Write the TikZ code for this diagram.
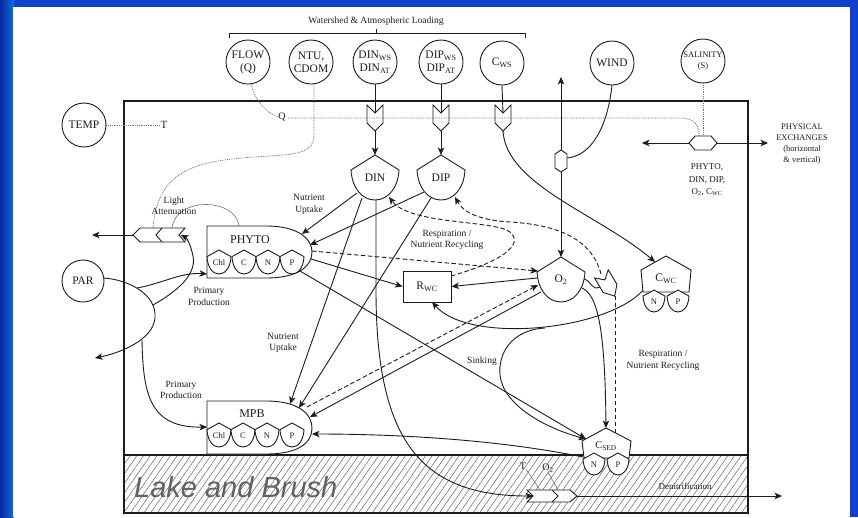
\documentclass[tikz,border=0pt]{standalone}
\usepackage{fontspec}
\setmainfont{Liberation Serif}
\newfontfamily\slidesans{Liberation Sans}
\usetikzlibrary{arrows.meta,patterns.meta}
\definecolor{slideblue}{RGB}{18,66,205}
\definecolor{slidedeep}{RGB}{6,40,165}
\definecolor{ink}{RGB}{28,28,28}
\definecolor{faint}{RGB}{115,115,115}
\newcommand\fs[1]{\fontsize{#1}{#1}\selectfont}

% small five-sided element (Chl, C, N, P): name, x, y, half size, label
\newcommand\minishield[5]{%
  \draw[shapeline] (#2,#3-#4) -- (#2+#4,#3-0.45*#4)
    .. controls (#2+0.95*#4,#3+0.5*#4) and (#2+0.5*#4,#3+#4) .. (#2,#3+#4)
    .. controls (#2-0.5*#4,#3+#4) and (#2-0.95*#4,#3+0.5*#4) .. (#2-#4,#3-0.45*#4) -- cycle;
  \node[minitext] (#1) at (#2,#3+1) {#5};}

% state variable with pointed top and rounded base: name, x, y, label
\newcommand\bigshield[4]{%
  \draw[shapeline] (#2,#3-23) -- (#2+24,#3-8)
    .. controls (#2+23,#3+10) and (#2+13,#3+22) .. (#2,#3+22)
    .. controls (#2-13,#3+22) and (#2-23,#3+10) .. (#2-24,#3-8) -- cycle;
  \node[boxtext] (#1) at (#2,#3) {#4};}

% loading valve on the top edge of the water column: name, x
\newcommand\inletvalve[2]{%
  \draw[conn] (#2-8,105) -- (#2,113) -- (#2+8,105) -- (#2+8,123) -- (#2,131) -- (#2-8,123) -- cycle;
  \coordinate (#1-in) at (#2,113);
  \coordinate (#1-out) at (#2,131);}

\begin{document}
\begin{tikzpicture}[x=1pt,y=-1pt,
  shapeline/.style={draw=ink,line width=0.9pt,fill=white},
  conn/.style={draw=ink,line width=0.9pt},
  flow/.style={conn,-{Stealth[length=7.5pt,width=6.5pt,inset=2pt]}},
  dflow/.style={flow,dash pattern=on 4.5pt off 2.5pt},
  dconn/.style={conn,dash pattern=on 4.5pt off 2.5pt},
  dotconn/.style={draw=faint,line width=0.75pt,dash pattern=on 0.9pt off 0.9pt},
  thinconn/.style={draw=faint,line width=0.6pt},
  extcirc/.style={circle,draw=ink,line width=0.9pt,minimum size=44pt,inner sep=0pt,
    align=center,font=\fontsize{11.5}{13}\selectfont,text=ink,fill=white},
  boxtext/.style={inner sep=0pt,font=\fs{11.5},text=ink},
  minitext/.style={inner sep=0pt,font=\fs{8.5},text=ink},
  lbl/.style={inner sep=0pt,align=center,font=\fontsize{9.5}{11.5}\selectfont,text=ink},
]
\useasboundingbox (0,0) rectangle (858,517);

% slide background
\fill[slideblue] (0,0) rectangle (858,517);
\shade[left color=slidedeep,right color=slideblue!75!cyan] (0,0) rectangle (14,517);
\fill[white] (13,7) rectangle (850,517);

% water column and sediment
\fill[pattern={Lines[angle=55,distance=5.5pt,line width=0.45pt]},pattern color=black!65]
  (124,455) rectangle (748,513);
\draw[ink,line width=1.1pt] (124,101) rectangle (748,513) (124,455) -- (748,455);
\node[font=\slidesans\itshape\fs{29},text=black!62,anchor=base west,inner sep=0pt] (lake)
  at (134,497) {Lake and Brush};

% external forcings
\node[lbl,font=\fs{9.5}] (load) at (376,21) {Watershed \& Atmospheric Loading};
\draw[conn,line width=0.7pt] (229,38) -- (229,33) -- (525,33) -- (525,38) (376,33) -- (376,29);

\node[extcirc] (flow) at (248,62) {FLOW\\(Q)};
\node[extcirc] (ntu) at (311,62) {NTU,\\CDOM};
\node[extcirc] (dinws) at (375,62) {DIN\textsubscript{WS}\\DIN\textsubscript{AT}};
\node[extcirc] (dipws) at (441,62) {DIP\textsubscript{WS}\\DIP\textsubscript{AT}};
\node[extcirc] (cws) at (502,63) {C\textsubscript{WS}};
\node[extcirc] (wind) at (612,63) {WIND};
\node[extcirc,font=\fontsize{8.5}{11}\selectfont] (sal) at (703,61) {SALINITY\\(S)};
\node[extcirc] (temp) at (84,125) {TEMP};
\node[extcirc,minimum size=42pt] (par) at (83,281) {PAR};

% anchor points
\coordinate (din-top) at (375,155);
\coordinate (dip-top) at (441,155);
\coordinate (o2-top) at (561,257);
\coordinate (dinBL) at (357,193);
\coordinate (dinB) at (362,198);
\coordinate (dinBot) at (376,200);
\coordinate (dinDown) at (376,290);
\coordinate (dinBR) at (389,197);
\coordinate (dipBL) at (424,192);
\coordinate (dipB) at (431,198);
\coordinate (dipBR) at (455,197);
\coordinate (phytoTR1) at (302,234);
\coordinate (phytoTR2) at (310,245);
\coordinate (phytoR) at (312,251);
\coordinate (phytoR2) at (311,259);
\coordinate (phytoBR) at (300,271);
\coordinate (phytoL) at (207,274);
\coordinate (phytoTop) at (239,226);
\coordinate (mpbT1) at (290,404);
\coordinate (mpbT2) at (299,408);
\coordinate (mpbR1) at (307,407);
\coordinate (mpbR2) at (310,417);
\coordinate (mpbR3) at (312,434);
\coordinate (mpbL) at (207,427);
\coordinate (rwcTR) at (451,276);
\coordinate (rwcB) at (432,302);
\coordinate (o2L1) at (538,271);
\coordinate (o2L2) at (537,278);
\coordinate (o2L3) at (538,285);
\coordinate (o2L4) at (541,292);
\coordinate (o2R) at (584,279);
\coordinate (o2BR) at (582,288);
\coordinate (ovIn) at (600,287);
\coordinate (ovTop) at (601,274);
\coordinate (ovBot) at (615,296);
\coordinate (cwcIn) at (655,262);
\coordinate (cwcL) at (644,289);
\coordinate (sinkTop) at (545,328);
\coordinate (csedTL) at (586,439);
\coordinate (csedTop) at (606,428);
\coordinate (csedTR) at (615,433);
\coordinate (csedL) at (583,457);
\coordinate (dvIn) at (533,496);
\coordinate (dvOut) at (577,496);
\coordinate (dvEnd) at (782,496);
\coordinate (dvT) at (540,490);
\coordinate (dvO) at (558,490);
\coordinate (hexL) at (689,143);
\coordinate (hexR) at (717,143);
\coordinate (hex-top) at (703,136);
\coordinate (xl) at (642,143);
\coordinate (xr) at (768,143);
\coordinate (wv-top) at (561,150);
\coordinate (wv-bot) at (561,172);
\coordinate (wv-right) at (567,158);
\coordinate (o2atm) at (561,77);
\coordinate (lvL) at (133,235);
\coordinate (lvOut) at (92,235);
\coordinate (lvTip) at (181,235);
\coordinate (lv-top) at (153,228);
\coordinate (lvTop2) at (172,228);
\coordinate (parR) at (104,278);
\coordinate (parOut) at (95,358);
\coordinate (parA) at (137,288);
\coordinate (parB) at (153,305);
\coordinate (parC) at (142,340);
\coordinate (flowfoot) at (251,84);
\coordinate (ntufoot) at (314,84);
\coordinate (qstart) at (288,118);
\coordinate (qbend) at (680,118);
\coordinate (qend) at (699,136.5);

% loading valves
\inletvalve{vdin}{375}
\inletvalve{vdip}{441}
\inletvalve{vcws}{503}

% physical drivers (dotted)
\node[boxtext,font=\fs{10}] (qlab) at (282,117) {Q};
\node[boxtext,font=\fs{11}] (tlab) at (164,125) {T};
\draw[dotconn] (flowfoot) .. controls (255,100) and (265,112) .. (qlab.west);
\draw[dotconn] (qstart) -- (qbend) .. controls (696,118) and (699,126) .. (qend);
\draw[dotconn] (ntufoot) -- (314,135) .. controls (314,152) and (300,154) .. (270,156)
  .. controls (200,160) and (158,166) .. (lv-top);
\draw[dotconn] (temp.east) -- (tlab.west);
\draw[dotconn] (sal.south) -- (hex-top);

% loading inputs
\draw[conn] (dinws.south) -- (vdin-in);
\draw[conn] (dipws.south) -- (vdip-in);
\draw[conn] (cws.south) -- (vcws-in);
\draw[flow] (vdin-out) -- (din-top);
\draw[flow] (vdip-out) -- (dip-top);
\draw[flow] (vcws-out) .. controls (506,185) and (600,215) .. (cwcIn);

% physical exchanges
\draw[flow] (hexL) -- (xl);
\draw[flow] (hexR) -- (xr);

% reaeration
\draw[flow] (wv-top) -- (o2atm);
\draw[flow] (wv-bot) -- (o2-top);
\draw[conn] (wind.south) .. controls (607,130) and (590,156) .. (wv-right);

% light
\draw[flow] (lvL) -- (lvOut);
\draw[thinconn] (phytoTop) .. controls (236,198) and (176,196) .. (lvTop2);
\draw[flow] (parR) .. controls (130,280) and (157,295) .. (155,318)
  .. controls (153,340) and (120,353) .. (parOut);
\draw[flow] (parA) .. controls (160,284) and (182,272) .. (phytoL);
\draw[flow] (parB) .. controls (176,292) and (197,275) .. (193,256)
  .. controls (191,246) and (187,238) .. (lvTip);
\draw[flow] (parC) .. controls (143,395) and (150,428) .. (mpbL);

% nutrient uptake
\draw[flow] (dinBL) -- (phytoTR1);
\draw[flow] (dipBL) -- (phytoTR2);
\draw[flow] (dinB) -- (mpbT1);
\draw[flow] (dipB) -- (mpbT2);

% respiration box
\node[draw=ink,line width=0.9pt,fill=white,minimum width=48pt,minimum height=31pt,
  inner sep=0pt,font=\fs{11.5},text=ink] (rwc) at (427,286.5) {R\textsubscript{WC}};

% production, respiration and sinking
\draw[dflow] (phytoR) -- (o2L1);
\draw[flow] (phytoR2) -- (rwc.west);
\draw[flow] (phytoBR) -- (csedTL);
\draw[flow] (o2L2) -- (rwc.east);
\draw[dflow] (mpbR1) -- (o2L3);
\draw[flow] (o2L4) -- (mpbR2);
\draw[flow] (csedL) .. controls (500,440) and (400,434) .. (mpbR3);
\draw[flow] (cwcL) .. controls (610,330) and (470,345) .. (rwcB);
\draw[flow] (sinkTop) .. controls (510,330) and (498,355) .. (500,375)
  .. controls (503,405) and (545,428) .. (csedTL);

% nutrient recycling
\draw[dflow] (rwcTR) .. controls (500,262) and (525,245) .. (510,232)
  .. controls (495,220) and (410,225) .. (dinBR);
\draw[dflow] (ovTop) .. controls (592,240) and (560,225) .. (510,222)
  .. controls (475,220) and (462,210) .. (dipBR);
\draw[dconn] (csedTR) -- (ovBot);
\draw[conn] (o2R) .. controls (592,281) and (591,291) .. (ovIn);
\draw[flow] (o2BR) .. controls (598,295) and (605,330) .. (csedTop);

% denitrification
\draw[flow] (dinBot) -- (dinDown) .. controls (376,440) and (420,496) .. (dvIn);
\draw[flow] (dvOut) -- (dvEnd);

% valves
\draw[shapeline] (689,143) -- (695,136) -- (711,136) -- (717,143) -- (711,150) -- (695,150) -- cycle;
\draw[shapeline] (561,150) -- (567,154) -- (567,168) -- (561,172) -- (555,168) -- (555,154) -- cycle;
\draw[shapeline] (133,235) -- (140,228) -- (185,228) -- (179,235) -- (185,242) -- (140,242) -- cycle;
\draw[conn] (162,228) -- (156,235) -- (162,242);
\draw[shapeline] (594.5,278) -- (604.9,279.9) -- (608.2,269.8) -- (616.9,284.3) -- (614.7,296.1) -- (603.2,292.5) -- cycle;
\draw[shapeline] (527,490) -- (570,490) -- (577,496) -- (570,502) -- (527,502) -- (533,496) -- cycle;
\draw[conn] (552,490) -- (558,496) -- (552,502);

% state variables
\draw[shapeline] (207,226) -- (266,226) .. controls (300,226) and (312,240) .. (312,252)
  .. controls (312,265) and (300,278) .. (266,278) -- (207,278) -- cycle;
\node[boxtext,font=\fs{12}] (phyto) at (250,240) {PHYTO};
\minishield{phChl}{219}{262}{12}{Chl}
\minishield{phC}{244}{262}{12}{C}
\minishield{phN}{268}{262}{12}{N}
\minishield{phP}{292}{262}{12}{P}

\draw[shapeline] (207,401) -- (266,401) .. controls (300,401) and (312,415) .. (312,428)
  .. controls (312,442) and (300,454) .. (266,454) -- (207,454) -- cycle;
\node[boxtext,font=\fs{12}] (mpb) at (252,414) {MPB};
\minishield{mpChl}{219}{435}{12}{Chl}
\minishield{mpC}{243}{435}{12}{C}
\minishield{mpN}{267}{435}{12}{N}
\minishield{mpP}{292}{435}{12}{P}

\bigshield{din}{375}{178}{DIN}
\bigshield{dip}{441}{178}{DIP}
\bigshield{o2}{561}{280}{O\textsubscript{2}}

\draw[shapeline] (666,256) -- (691,270) -- (689,292) -- (643,292) -- (641,270) -- cycle;
\node[boxtext] (cwc) at (666,279) {C\textsubscript{WC}};
\minishield{cwcN}{654}{301}{11}{N}
\minishield{cwcP}{678}{301}{11}{P}

\draw[shapeline] (606,428) -- (631,441) -- (629,458) -- (584,458) -- (582,441) -- cycle;
\node[boxtext,font=\fs{10.5}] (csed) at (606,446) {C\textsubscript{SED}};
\minishield{csedN}{594}{464}{11}{N}
\minishield{csedP}{618}{464}{11}{P}

% denitrification controls
\node[boxtext,font=\fs{10}] (tden) at (523,466) {T};
\node[boxtext,font=\fs{10}] (oden) at (548,468) {O\textsubscript{2}};
\draw[thinconn] (tden.south east) -- (dvT);
\draw[thinconn] (oden.south) -- (dvO);

% process labels
\node[lbl,font=\fontsize{8.5}{11}\selectfont] (physx) at (802,144) {PHYSICAL\\EXCHANGES\\(horizontal\\\& vertical)};
\node[lbl,font=\fontsize{9}{12.5}\selectfont] (exlist) at (707,180) {PHYTO,\\DIN, DIP,\\O\textsubscript{2}, C\textsubscript{WC}};
\node[lbl] (nu1) at (309,204.5) {Nutrient\\Uptake};
\node[lbl] (nu2) at (283,343) {Nutrient\\Uptake};
\node[lbl] (rnr1) at (447,240) {Respiration /\\Nutrient Recycling};
\node[lbl] (rnr2) at (663,360.5) {Respiration /\\Nutrient Recycling};
\node[lbl] (sink) at (482,361) {Sinking};
\node[lbl] (pp1) at (209,296.5) {Primary\\Production};
\node[lbl] (pp2) at (181,390) {Primary\\Production};
\node[lbl] (la) at (174,205.5) {Light\\Attenuation};
\node[lbl,font=\fs{9}] (denit) at (685,486) {Denitrification};
\end{tikzpicture}
\end{document}
